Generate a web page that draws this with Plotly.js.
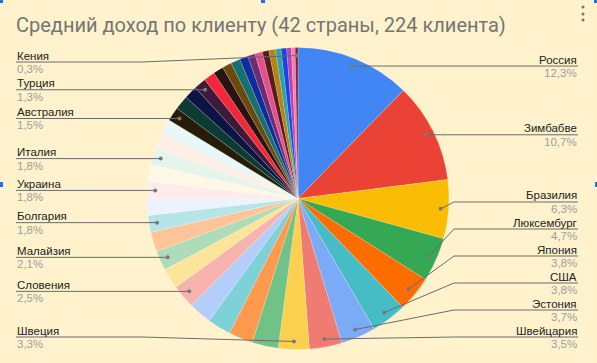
<!DOCTYPE html>
<html><head><meta charset="utf-8">
<script src="https://cdn.plot.ly/plotly-3.0.1.min.js"></script>
<style>html,body{margin:0;padding:0;background:#FFF2CC}#chart{width:597px;height:363px}</style>
</head><body><div id="chart"></div>
<script>
// ---- data (sorted descending as in the chart) ----
const countries = [
  "Россия","Зимбабве","Бразилия","Люксембург","Япония","США","Эстония","Швейцария","Швеция",
  "Страна 10","Страна 11","Страна 12","Страна 13","Словения","Страна 15","Малайзия","Страна 17",
  "Болгария","Страна 19","Украина","Страна 21","Италия","Страна 23","Страна 24","Австралия",
  "Страна 26","Страна 27","Турция","Страна 29","Страна 30","Страна 31","Страна 32","Страна 33",
  "Страна 34","Страна 35","Страна 36","Страна 37","Страна 38","Страна 39","Страна 40","Страна 41","Кения"
];
const shares = [
  12.3,10.7,6.3,4.7,3.8,3.8,3.7,3.5,3.3,
  2.8,2.6,2.5,2.5,2.5,2.2,2.1,2.1,
  1.8,1.8,1.8,1.8,1.8,1.7,1.6,1.5,
  1.5,1.4,1.3,1.2,1.1,1.0,1.0,0.9,
  0.8,0.8,0.7,0.7,0.6,0.6,0.5,0.4,0.3
];
const sliceColors = [
  "#4285F4","#EA4335","#FBBC04","#34A853","#FF6D01","#46BDC6","#7BAAF7","#F07B72","#FCD04F",
  "#71C287","#FF994D","#7ED1D7","#B3CEFB","#F7B4AE","#FDE49B","#AEDCBA","#FFC599",
  "#B5E5E8","#ECF3FE","#FDECEB","#FFF8E6","#E6F5EC","#FFEFE6","#E8F7F8","#261C08",
  "#0B3B33","#0C1445","#3D1A3A","#F4263A","#2A1212","#6B4A0E","#17706F","#0F2C9E",
  "#6B2C74","#E74E8C","#5A1B1E","#B5830E","#2BA3A8","#1B45E0","#B544B5","#F27CB2","#8C1F35"
];
const labeledCountries = [
  "Россия","Зимбабве","Бразилия","Люксембург","Япония","США","Эстония","Швейцария",
  "Швеция","Словения","Малайзия","Болгария","Украина","Италия","Австралия","Турция","Кения"
];
const chartTitle = "Средний доход по клиенту (42 страны, 224 клиента)";

// ---- geometry ----
const W = 597, H = 363, cx = 298, cy = 198.5, R = 151;
const dotR = 143, kneeOff = 156, topLim = 62, botLim = 337, gap = 27;
const px = x => x / W, py = y => 1 - y / H;

const total = shares.reduce((a, b) => a + b, 0);
let cum = 0;
const items = [];
shares.forEach((v, i) => {
  const mid = (cum + v / 2) / total;
  cum += v;
  if (!labeledCountries.includes(countries[i])) return;
  const ang = mid * 2 * Math.PI;
  items.push({
    name: countries[i],
    pct: (v / total * 100).toFixed(1).replace('.', ',') + '%',
    side: mid < 0.5 ? 'right' : 'left',
    dx: cx + dotR * Math.sin(ang),
    dy: cy - dotR * Math.cos(ang)
  });
});

function place(list) {
  list.sort((a, b) => a.dy - b.dy);
  for (let i = list.length - 1; i >= 0; i--) {
    let y = Math.min(list[i].dy, botLim);
    if (i < list.length - 1) y = Math.min(y, list[i + 1].ly - gap);
    list[i].ly = Math.max(y, topLim);
  }
}
const rightItems = items.filter(d => d.side === 'right');
const leftItems = items.filter(d => d.side === 'left');
place(rightItems); place(leftItems);

const shapes = [], annotations = [];
const labelFont = 'Liberation Sans, Arial, sans-serif';
items.forEach(d => {
  const right = d.side === 'right';
  const edge = right ? 578 : 16;
  const knee = right ? cx + kneeOff : cx - kneeOff;
  shapes.push({
    type: 'path', xref: 'paper', yref: 'paper',
    path: `M ${px(edge)},${py(d.ly)} L ${px(knee)},${py(d.ly)} L ${px(d.dx)},${py(d.dy)}`,
    line: { color: '#6b6b6b', width: 1 }
  });
  shapes.push({
    type: 'circle', xref: 'paper', yref: 'paper',
    x0: px(d.dx - 2), x1: px(d.dx + 2), y0: py(d.dy + 2), y1: py(d.dy - 2),
    fillcolor: '#7a7a7a', line: { width: 0 }
  });
  annotations.push({
    xref: 'paper', yref: 'paper', x: px(edge), y: py(d.ly - 6.5),
    xanchor: right ? 'right' : 'left', yanchor: 'middle', showarrow: false,
    text: d.name, borderpad: 0,
    font: { family: labelFont, size: 11.5, color: '#222222' }
  });
  annotations.push({
    xref: 'paper', yref: 'paper', x: px(edge), y: py(d.ly + 7),
    xanchor: right ? 'right' : 'left', yanchor: 'middle', showarrow: false,
    text: d.pct, borderpad: 0,
    font: { family: labelFont, size: 11.5, color: '#9e9e9e' }
  });
});

// kebab menu dots
[7, 14, 20].forEach(y => shapes.push({
  type: 'circle', xref: 'paper', yref: 'paper',
  x0: px(581.5), x1: px(584.5), y0: py(y + 1.5), y1: py(y - 1.5),
  fillcolor: '#757575', line: { width: 0 }
}));
// selection handles
[[0, 0, 3, 3], [261, 0, 265, 3], [594, 0, 597, 3], [0, 182, 3, 187], [595, 182, 597, 187]].forEach(r => shapes.push({
  type: 'rect', xref: 'paper', yref: 'paper',
  x0: px(r[0]), x1: px(r[2]), y0: py(r[3]), y1: py(r[1]),
  fillcolor: '#1A73E8', line: { width: 0 }
}));

const trace = {
  type: 'pie', labels: countries, values: shares, sort: false,
  direction: 'clockwise', rotation: 0,
  marker: { colors: sliceColors, line: { color: 'rgba(255,255,255,0.3)', width: 0.6 } },
  textinfo: 'none', hoverinfo: 'none', showlegend: false,
  domain: { x: [px(cx - R), px(cx + R)], y: [(H - cy - R) / H, (H - cy + R) / H] }
};

Plotly.newPlot('chart', [trace], {
  width: W, height: H,
  margin: { l: 0, r: 0, t: 0, b: 0 },
  paper_bgcolor: '#FFF2CC',
  showlegend: false,
  title: {
    text: chartTitle, xref: 'container', yref: 'container',
    x: 16 / W, xanchor: 'left', y: 1 - 25 / H, yanchor: 'middle',
    font: { family: 'Roboto, sans-serif', size: 20, color: '#757575' }
  },
  shapes: shapes,
  annotations: annotations
}, { displayModeBar: false, staticPlot: true });
</script>
</body></html>
